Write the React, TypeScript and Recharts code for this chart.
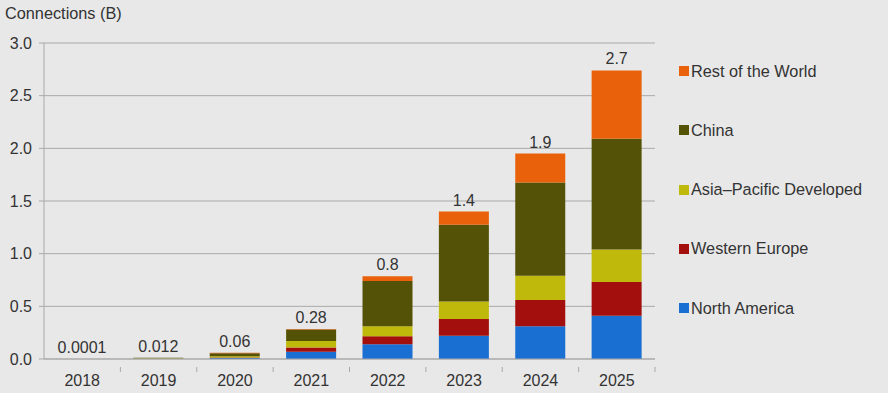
import React from "react";
import { BarChart, Bar, XAxis, YAxis, CartesianGrid, LabelList } from "recharts";

const years = ["2018", "2019", "2020", "2021", "2022", "2023", "2024", "2025"];
const northAmerica = [0.00003, 0.002, 0.01, 0.07, 0.14, 0.22, 0.31, 0.41];
const westernEurope = [0.00002, 0.001, 0.005, 0.04, 0.075, 0.16, 0.25, 0.32];
const asiaPacific = [0.00002, 0.005, 0.01, 0.06, 0.095, 0.165, 0.23, 0.31];
const china = [0.00002, 0.003, 0.03, 0.11, 0.43, 0.73, 0.885, 1.05];
const restOfWorld = [0.00001, 0.001, 0.005, 0.005, 0.045, 0.125, 0.275, 0.65];
const totalLabels = ["0.0001", "0.012", "0.06", "0.28", "0.8", "1.4", "1.9", "2.7"];
const yTicks = [0, 0.5, 1, 1.5, 2, 2.5, 3];

const series = [
  { key: "na", name: "North America", color: "#1a6fd3" },
  { key: "we", name: "Western Europe", color: "#a20f0c" },
  { key: "apd", name: "Asia\u2013Pacific Developed", color: "#bfb90b" },
  { key: "cn", name: "China", color: "#545207" },
  { key: "row", name: "Rest of the World", color: "#e9620b" },
];

const data = years.map((year, i) => ({
  year,
  na: northAmerica[i],
  we: westernEurope[i],
  apd: asiaPacific[i],
  cn: china[i],
  row: restOfWorld[i],
  label: totalLabels[i],
}));

const W = 888;
const H = 393;
const plotLeft = 44;
const plotRight = 655;
const band = (plotRight - plotLeft) / years.length;
const font = "'Liberation Sans', Arial, sans-serif";
const textColor = "#333";
const axisColor = "#a9a9a9";

function YearTick(props: any) {
  const { x, y, payload } = props;
  return (
    <g>
      <line x1={x + band / 2} y1={y} x2={x + band / 2} y2={y + 5} stroke={axisColor} />
      <text x={x} y={y + 19} textAnchor="middle" fill={textColor} fontSize={16} fontFamily={font}>
        {payload.value}
      </text>
    </g>
  );
}

function Legend() {
  return (
    <div style={{ position: "absolute", left: 679, top: 61, fontFamily: font, fontSize: 16.3, color: textColor }}>
      {[...series].reverse().map((s) => (
        <div key={s.key} style={{ display: "flex", alignItems: "center", height: 20, marginBottom: 39.3 }}>
          <span style={{ width: 10, height: 10, background: s.color, marginRight: 2, display: "inline-block" }} />
          <span>{s.name}</span>
        </div>
      ))}
    </div>
  );
}

export default function App() {
  return (
    <div style={{ position: "absolute", left: 0, top: 0, width: W, height: H, background: "#e8e8e8" }}>
      <div style={{ position: "absolute", left: 5, top: 4, fontFamily: font, fontSize: 16.3, color: textColor }}>
        Connections (B)
      </div>
      <BarChart
        width={W}
        height={H}
        data={data}
        margin={{ top: 43, right: W - plotRight, bottom: 0, left: 0 }}
        barSize={50}
      >
        <CartesianGrid vertical={false} stroke={axisColor} />
        <XAxis
          dataKey="year"
          height={34}
          stroke={axisColor}
          tickLine={false}
          tick={<YearTick />}
          interval={0}
        />
        <YAxis
          width={plotLeft}
          domain={[0, 3]}
          ticks={yTicks}
          tickFormatter={(v: number) => v.toFixed(1)}
          stroke={axisColor}
          tickSize={5}
          tickMargin={7}
          tick={{ fill: textColor, fontSize: 16, fontFamily: font }}
        />
        {series.map((s, i) => (
          <Bar key={s.key} dataKey={s.key} name={s.name} stackId="a" fill={s.color} isAnimationActive={false}>
            {i === series.length - 1 && (
              <LabelList dataKey="label" position="top" offset={6} fill={textColor} fontSize={16} fontFamily={font} />
            )}
          </Bar>
        ))}
      </BarChart>
      <Legend />
    </div>
  );
}
